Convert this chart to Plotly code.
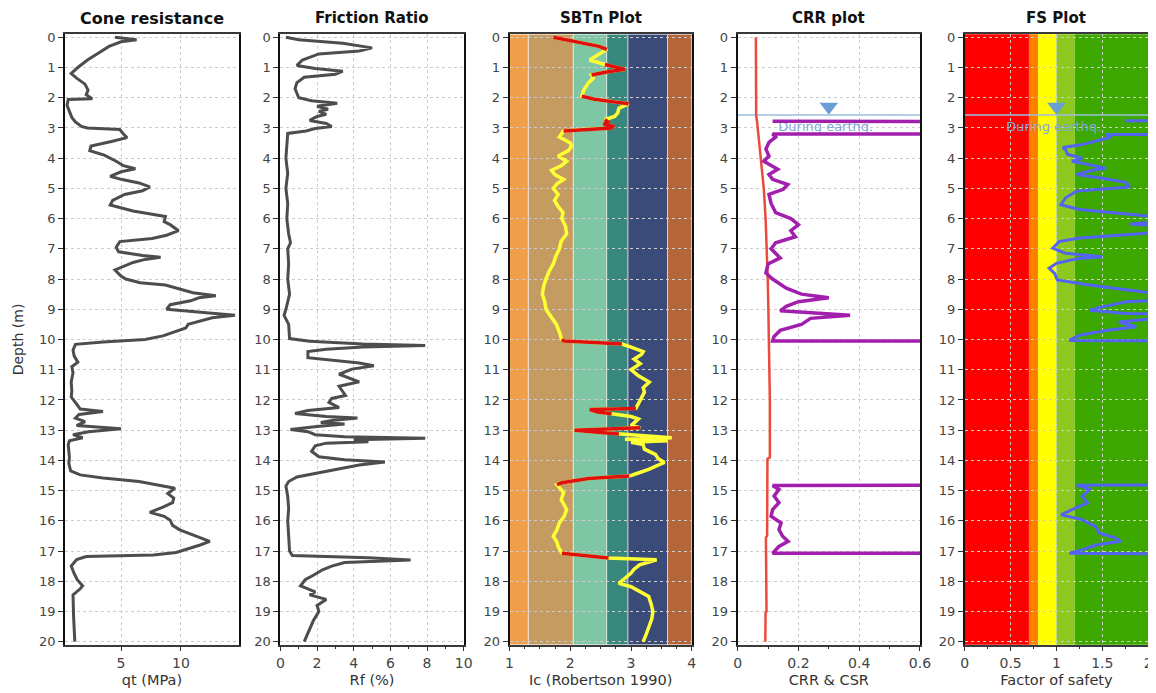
import plotly.graph_objects as go

W, H = 1156, 693

# ---------------- data ----------------
qt_depth = [0.00, 0.08, 0.15, 0.30, 0.50, 0.75, 1.00, 1.20, 1.35, 1.55, 1.75, 1.90, 2.03, 2.06, 2.25, 2.45,
            2.65, 2.80, 2.95, 3.00, 3.05, 3.20, 3.32, 3.45, 3.60, 3.75, 3.90, 4.10, 4.25, 4.35, 4.45, 4.60,
            4.70, 4.82, 4.95, 5.08, 5.20, 5.40, 5.55, 5.75, 5.93, 6.10, 6.20, 6.40, 6.55, 6.66, 6.76, 6.95,
            7.10, 7.22, 7.28, 7.35, 7.45, 7.70, 7.90, 8.00, 8.12, 8.20, 8.35, 8.45, 8.55, 8.62, 8.72, 8.85,
            9.00, 9.12, 9.20, 9.28, 9.40, 9.50, 9.62, 9.75, 9.88, 10.00, 10.08, 10.16, 10.35, 10.55, 10.75,
            10.90, 11.10, 11.40, 11.70, 11.90, 12.10, 12.30, 12.38, 12.48, 12.60, 12.72, 12.85, 12.95, 13.05,
            13.15, 13.25, 13.35, 13.48, 13.70, 13.90, 14.10, 14.35, 14.48, 14.58, 14.70, 14.82, 14.92, 15.10,
            15.25, 15.40, 15.55, 15.72, 15.85, 15.98, 16.15, 16.30, 16.50, 16.68, 16.80, 16.95, 17.05, 17.13,
            17.18, 17.28, 17.50, 17.75, 17.95, 18.15, 18.25, 18.45, 18.80, 19.20, 19.60, 20.00]
qt_mpa = [4.5, 6.3, 5.0, 4.0, 3.2, 2.2, 1.4, 0.85, 1.3, 2.0, 2.25, 2.1, 2.6, 0.6, 0.5, 0.7,
          0.9, 1.2, 1.7, 2.2, 4.9, 5.2, 5.5, 4.2, 2.5, 2.4, 3.6, 4.6, 5.2, 6.2, 5.0, 4.1,
          5.0, 6.5, 7.4, 6.8, 5.3, 4.3, 4.1, 6.0, 8.7, 8.6, 9.1, 9.8, 8.8, 7.6, 4.9, 4.6,
          4.8, 6.8, 8.3, 7.0, 6.0, 4.5, 5.0, 5.4, 6.6, 8.7, 10.2, 11.0, 12.9, 11.5, 10.8, 9.1,
          8.8, 12.3, 14.5, 12.6, 11.5, 10.6, 10.4, 9.5, 8.5, 7.0, 3.5, 1.2, 1.0, 1.1, 1.4,
          0.9, 1.0, 0.85, 0.9, 0.85, 1.2, 1.6, 3.5, 1.5, 1.2, 2.0, 1.3, 5.0, 2.3,
          1.0, 1.8, 0.7, 0.6, 0.65, 0.7, 0.65, 0.8, 1.6, 3.5, 6.5, 8.3, 9.5, 8.9,
          9.4, 9.3, 8.5, 7.4, 8.6, 9.1, 9.3, 9.9, 11.2, 12.4, 11.6, 10.3, 9.6, 7.7,
          2.1, 1.3, 0.85, 1.1, 1.35, 1.8, 1.6, 1.0, 1.0, 1.05, 1.1, 1.15]

rf_depth = [0.00, 0.08, 0.20, 0.35, 0.45, 0.55, 0.75, 0.93, 1.03, 1.12, 1.22, 1.32, 1.50, 1.70, 1.85, 2.00,
            2.10, 2.18, 2.28, 2.38, 2.45, 2.55, 2.62, 2.75, 2.85, 2.95, 3.02, 3.10, 3.18, 3.50, 4.00, 4.50,
            5.00, 5.50, 6.00, 6.50, 6.80, 7.00, 7.50, 8.00, 8.50, 9.00, 9.20, 9.50, 9.97, 10.06, 10.15,
            10.20, 10.25, 10.32, 10.40, 10.60, 10.70, 10.78, 10.87, 10.98, 11.15, 11.30, 11.40, 11.55,
            11.70, 11.85, 11.95, 12.08, 12.25, 12.35, 12.45, 12.55, 12.60, 12.68, 12.75, 12.80, 12.88,
            12.98, 13.05, 13.15, 13.22, 13.27, 13.32, 13.38, 13.43, 13.52, 13.70, 13.88, 13.98, 14.05,
            14.15, 14.25, 14.40, 14.55, 14.70, 14.85, 15.20, 15.60, 16.00, 16.50, 17.00, 17.15, 17.22,
            17.30, 17.38, 17.50, 17.62, 17.80, 17.95, 18.15, 18.25, 18.35, 18.45, 18.60, 18.80, 19.00,
            19.30, 19.60, 20.00]
rf_pct = [0.3, 1.0, 3.4, 5.0, 4.3, 2.1, 1.2, 0.9, 1.9, 3.4, 3.0, 1.3, 0.9, 0.8, 0.9, 1.0,
          1.7, 3.1, 2.0, 2.6, 2.1, 2.5, 2.0, 1.6, 2.5, 2.8, 1.9, 1.4, 0.4, 0.35, 0.3, 0.4,
          0.3, 0.4, 0.35, 0.45, 0.55, 0.4, 0.45, 0.4, 0.5, 0.3, 0.2, 0.45, 0.5, 1.6, 4.5,
          7.9, 4.5, 2.5, 1.5, 1.5, 3.0, 4.3, 5.1, 3.9, 3.2, 3.8, 4.3, 3.2,
          3.4, 3.55, 2.8, 2.65, 3.2, 1.5, 0.8, 2.5, 4.2, 2.8, 2.2, 3.5, 2.0,
          0.55, 1.5, 1.9, 3.5, 7.9, 4.0, 4.8, 2.5, 1.9, 1.7, 2.1, 3.5, 5.7,
          4.3, 3.5, 2.1, 0.9, 0.45, 0.3, 0.4, 0.45, 0.4, 0.45, 0.5, 0.65, 4.8,
          7.1, 3.5, 2.8, 2.3, 1.8, 1.35, 1.1, 1.5, 1.9, 1.6, 2.5, 2.0, 2.1,
          1.8, 1.6, 1.3]

ic_depth = [0.00, 0.10, 0.20, 0.30, 0.40, 0.55, 0.75, 0.90, 1.00, 1.06, 1.15, 1.25, 1.35, 1.50, 1.75, 1.95,
            2.05, 2.12, 2.20, 2.35, 2.50, 2.62, 2.72, 2.80, 2.88, 2.95, 3.00, 3.05, 3.10, 3.30, 3.50, 3.60,
            3.75, 3.93, 4.10, 4.25, 4.40, 4.55, 4.70, 4.85, 5.00, 5.20, 5.40, 5.60, 5.80, 6.00, 6.25, 6.50,
            6.75, 7.00, 7.25, 7.50, 7.75, 8.00, 8.25, 8.50, 8.75, 9.00, 9.25, 9.50, 9.75, 10.00, 10.05,
            10.10, 10.15, 10.25, 10.40, 10.50, 10.65, 10.80, 11.00, 11.20, 11.41, 11.60, 11.74, 11.90,
            12.08, 12.20, 12.28, 12.32, 12.40, 12.46, 12.55, 12.63, 12.75, 12.85, 12.92, 13.00, 13.08,
            13.13, 13.20, 13.25, 13.30, 13.35, 13.40, 13.48, 13.63, 13.80, 13.95, 14.07, 14.20, 14.30,
            14.46, 14.52, 14.60, 14.74, 14.80, 15.07, 15.30, 15.63, 15.85, 16.07, 16.30, 16.51, 16.70,
            16.85, 17.07, 17.15, 17.23, 17.29, 17.46, 17.60, 17.73, 17.90, 18.07, 18.18, 18.35, 18.50,
            18.75, 19.00, 19.25, 19.50, 19.75, 20.00]
ic_val = [1.72, 1.95, 2.20, 2.47, 2.60, 2.47, 2.32, 2.57, 2.80, 2.90, 2.60, 2.35, 2.38, 2.30, 2.22, 2.19,
          2.40, 2.65, 2.96, 2.80, 2.78, 2.73, 2.57, 2.62, 2.55, 2.70, 2.68, 2.19, 1.89, 1.82, 2.00, 2.02,
          1.97, 1.80, 1.94, 1.85, 1.69, 1.75, 1.89, 1.78, 1.72, 1.80, 1.74, 1.80, 1.88, 1.86, 1.92, 1.94,
          1.85, 1.82, 1.76, 1.72, 1.65, 1.60, 1.56, 1.54, 1.58, 1.60, 1.68, 1.77, 1.82, 1.86, 1.90,
          2.40, 2.85, 3.00, 3.20, 3.17, 3.05, 3.15, 3.00, 3.12, 3.30, 3.20, 3.22, 3.18,
          3.14, 3.10, 3.08, 2.32, 2.45, 2.68, 3.00, 3.12, 3.05, 3.00, 3.15, 2.07, 2.50,
          2.80, 3.20, 3.67, 2.90, 3.60, 3.00, 3.20, 3.22, 3.40, 3.45, 3.55, 3.40, 3.29,
          3.06, 2.97, 2.30, 1.86, 1.78, 1.89, 1.85, 1.94, 1.90, 1.82, 1.78, 1.72, 1.78,
          1.80, 1.86, 2.30, 2.63, 3.42, 3.14, 3.05, 3.00, 2.90, 2.80, 3.00, 3.15, 3.29,
          3.33, 3.36, 3.34, 3.30, 3.25, 3.20]
transition_zones = [(0.0, 0.40), (0.90, 1.25), (1.95, 2.20), (2.72, 3.10), (10.00, 10.15),
                    (12.28, 12.46), (12.92, 13.13), (14.52, 14.80), (17.07, 17.23)]

csr_depth = [0.0, 1.0, 2.0, 2.6, 2.8, 3.0, 3.5, 4.0, 4.5, 5.0, 6.0, 7.0, 8.0, 9.0, 10.0, 11.0, 12.0,
             13.0, 13.9, 13.95, 15.0, 16.0, 16.5, 16.55, 17.5, 18.0, 19.0, 19.05, 20.0]
csr_val = [0.060, 0.060, 0.060, 0.061, 0.064, 0.066, 0.072, 0.077, 0.082, 0.086, 0.092, 0.096, 0.099,
           0.101, 0.103, 0.105, 0.106, 0.106, 0.106, 0.098, 0.098, 0.097, 0.097, 0.093, 0.094, 0.095,
           0.095, 0.092, 0.091]

crr_depth = [2.78, 2.80, 3.18, 3.20, 3.30, 3.48, 3.70, 3.93, 4.10, 4.37, 4.54, 4.70, 4.87, 5.03, 5.20,
             5.50, 5.80, 6.00, 6.20, 6.40, 6.60, 6.80, 7.00, 7.30, 7.50, 7.80, 8.00, 8.30, 8.50, 8.62,
             8.75, 8.90, 9.05, 9.20, 9.30, 9.50, 9.70, 9.90, 10.05, 10.08, 14.80, 14.83, 14.96, 15.18,
             15.40, 15.63, 15.85, 16.07, 16.29, 16.51, 16.68, 16.85, 17.07, 17.09, 20.00]
crr_val = [0.115, 4.0, 4.0, 0.115, 0.125, 0.103, 0.093, 0.103, 0.086, 0.132, 0.103, 0.115, 0.165, 0.150,
           0.103, 0.110, 0.125, 0.175, 0.200, 0.175, 0.190, 0.125, 0.110, 0.140, 0.100, 0.093, 0.115,
           0.160, 0.210, 0.300, 0.200, 0.160, 0.140, 0.370, 0.240, 0.210, 0.140, 0.120, 0.115, 4.0, 4.0,
           0.115, 0.136, 0.120, 0.136, 0.115, 0.110, 0.143, 0.136, 0.148, 0.166, 0.136, 0.115, 4.0, 4.0]

fs_depth = [2.76, 2.80, 3.18, 3.22, 3.30, 3.43, 3.55, 3.65, 3.72, 3.87, 4.00, 4.10, 4.33, 4.40, 4.54, 4.65,
            4.80, 4.95, 5.09, 5.31, 5.54, 5.70, 5.81, 5.92, 6.00, 6.10, 6.18, 6.26, 6.45, 6.53, 6.64, 6.76,
            6.98, 7.15, 7.26, 7.33, 7.48, 7.64, 7.81, 8.03, 8.20, 8.31, 8.48, 8.60, 8.70, 8.75, 8.92, 9.03,
            9.14, 9.20, 9.30, 9.42, 9.58, 9.70, 9.86, 10.03, 10.06, 14.80, 14.82, 14.96, 15.19, 15.41,
            15.63, 15.80, 15.96, 16.19, 16.41, 16.57, 16.68, 16.80, 16.96, 17.07, 17.13, 20.00]
fs_val = [1.76, 4.0, 4.0, 1.54, 1.60, 1.43, 1.28, 1.07, 1.10, 1.12, 1.28, 1.17, 1.54, 1.39, 1.22, 1.47,
          1.76, 1.80, 1.22, 1.10, 1.05, 1.25, 1.61, 1.99, 2.30, 2.20, 1.80, 2.20, 2.10, 1.76, 1.25, 1.03,
          0.96, 1.10, 1.50, 1.22, 1.00, 0.92, 0.98, 1.01, 1.36, 1.65, 2.10, 3.00, 2.20, 1.76, 1.50, 1.36,
          1.76, 3.50, 2.10, 1.68, 1.87, 1.54, 1.25, 1.14, 4.0, 4.0, 1.22, 1.36, 1.28, 1.34,
          1.17, 1.05, 1.28, 1.43, 1.47, 1.65, 1.70, 1.43, 1.28, 1.14, 4.0, 4.0]

gwt_depth = 2.57
gwt_label = "During earthq."

sbt_bounds = [1.0, 1.31, 2.05, 2.60, 2.95, 3.60, 4.0]
sbt_colors = ["#EF9E4A", "#C49C62", "#7FC6A4", "#38887E", "#3A4B7A", "#B5653A"]
fs_bounds = [0.0, 0.7, 0.8, 1.0, 1.2, 2.0]
fs_colors = ["#FF0000", "#FF8000", "#FFFF00", "#8CC81E", "#3DA800"]

panel_titles = ["Cone resistance", "Friction Ratio", "SBTn Plot", "CRR plot", "FS Plot"]
x_titles = ["qt (MPa)", "Rf (%)", "Ic (Robertson 1990)", "CRR & CSR", "Factor of safety"]
depth_ticks = list(range(0, 21))

# ---------------- layout geometry ----------------
# target positions measured on the screen; mapped to figure pixels (page offset / capture scale calibration)
SX, OX = 0.9908, 8.57
SY, OY = 0.985, 11.5


def fx(sx):
    return (sx - OX) / SX


def fy(sy):
    return (sy - OY) / SY


px_left = [62, 278, 508, 737, 965]
px_right = [236, 462, 691, 920, 1149]
py_top, py_bottom = 33.7, 642
x_ranges = [[0.35, 14.8], [0, 10], [1, 4], [0, 0.6], [0, 2]]
y_dom = [(H - fy(py_bottom)) / H, (H - fy(py_top)) / H]

FONT = "DejaVu Sans"
GRID = "#CDCDCD"

fig = go.Figure()

# panel 1: cone resistance
fig.add_trace(go.Scatter(x=qt_mpa, y=qt_depth, mode="lines", line=dict(color="#4D4D4D", width=3),
                         xaxis="x", yaxis="y", showlegend=False))
# panel 2: friction ratio
fig.add_trace(go.Scatter(x=rf_pct, y=rf_depth, mode="lines", line=dict(color="#4D4D4D", width=3),
                         xaxis="x2", yaxis="y2", showlegend=False))
# panel 3: SBTn
fig.add_trace(go.Scatter(x=ic_val, y=ic_depth, mode="lines", line=dict(color="#FFFF33", width=3.5),
                         xaxis="x3", yaxis="y3", showlegend=False))


def in_zone(d):
    return any(a <= d <= b for a, b in transition_zones)


ic_red = [v if in_zone(d) else None for d, v in zip(ic_depth, ic_val)]
fig.add_trace(go.Scatter(x=ic_red, y=ic_depth, mode="lines", line=dict(color="#E01010", width=3.5),
                         connectgaps=False, xaxis="x3", yaxis="y3", showlegend=False))

# water table lines (drawn across the CRR and FS panels)
for k, ax in [(3, "4"), (4, "5")]:
    fig.add_trace(go.Scatter(x=x_ranges[k], y=[gwt_depth, gwt_depth], mode="lines",
                             line=dict(color="#9DBEDF", width=1.5), xaxis="x" + ax, yaxis="y" + ax,
                             showlegend=False, hoverinfo="skip"))

# panel 4: CRR / CSR
fig.add_trace(go.Scatter(x=[0.29], y=[gwt_depth + 0.42], mode="text", text=[gwt_label],
                         textfont=dict(color="#7EA7DA", size=13, family=FONT), textposition="middle center",
                         xaxis="x4", yaxis="y4", showlegend=False))
fig.add_trace(go.Scatter(x=csr_val, y=csr_depth, mode="lines", line=dict(color="#EC4A3A", width=2.5),
                         xaxis="x4", yaxis="y4", showlegend=False))
fig.add_trace(go.Scatter(x=crr_val, y=crr_depth, mode="lines", line=dict(color="#A21FAD", width=3.5),
                         xaxis="x4", yaxis="y4", showlegend=False))
fig.add_trace(go.Scatter(x=[0.30], y=[gwt_depth - 0.27], mode="markers",
                         marker=dict(symbol="triangle-down", size=16, color="#6C9ED6"),
                         xaxis="x4", yaxis="y4", showlegend=False))

# panel 5: FS
fig.add_trace(go.Scatter(x=[0.97], y=[gwt_depth + 0.42], mode="text", text=[gwt_label],
                         textfont=dict(color="#7EA7DA", size=13, family=FONT), textposition="middle center",
                         xaxis="x5", yaxis="y5", showlegend=False))
fig.add_trace(go.Scatter(x=fs_val, y=fs_depth, mode="lines", line=dict(color="#5364F5", width=3),
                         xaxis="x5", yaxis="y5", showlegend=False))
fig.add_trace(go.Scatter(x=[1.0], y=[gwt_depth - 0.27], mode="markers",
                         marker=dict(symbol="triangle-down", size=16, color="#6C9ED6"),
                         xaxis="x5", yaxis="y5", showlegend=False))

shapes = []
for i in range(len(sbt_colors)):
    shapes.append(dict(type="rect", xref="x3", yref="y3 domain", x0=sbt_bounds[i], x1=sbt_bounds[i + 1],
                       y0=0, y1=1, fillcolor=sbt_colors[i], line=dict(color="rgba(255,255,255,0.55)", width=1),
                       layer="below"))
for i in range(len(fs_colors)):
    shapes.append(dict(type="rect", xref="x5", yref="y5 domain", x0=fs_bounds[i], x1=fs_bounds[i + 1],
                       y0=0, y1=1, fillcolor=fs_colors[i], line=dict(width=0), layer="below"))

layout = dict(
    width=W, height=H, margin=dict(l=0, r=0, t=0, b=0),
    paper_bgcolor="white", plot_bgcolor="white",
    font=dict(family=FONT, color="#333333"),
    shapes=shapes, showlegend=False,
)

x_tick_cfg = [
    dict(tickmode="array", tickvals=[5, 10], showgrid=True),
    dict(tick0=0, dtick=2, minor=dict(dtick=1, ticks="outside", ticklen=3, tickcolor="#333", showgrid=False),
         showgrid=True),
    dict(tick0=1, dtick=1, minor=dict(dtick=0.25, ticks="outside", ticklen=3, tickcolor="#333", showgrid=False),
         showgrid=False),
    dict(tick0=0, dtick=0.2, minor=dict(dtick=0.1, ticks="outside", ticklen=3, tickcolor="#333", showgrid=False),
         showgrid=True),
    dict(tick0=0, dtick=0.5, minor=dict(dtick=0.25, ticks="outside", ticklen=3, tickcolor="#333", showgrid=False),
         showgrid=True),
]

annotations = []
for i in range(5):
    sfx = "" if i == 0 else str(i + 1)
    xd = [fx(px_left[i]) / W, fx(px_right[i]) / W]
    xa = dict(domain=xd, range=x_ranges[i], anchor="y" + sfx, showline=True, mirror=True,
              linecolor="#3A3A3A", linewidth=1.5, ticks="outside", ticklen=5, tickcolor="#333",
              tickfont=dict(size=14, color="#444"), gridcolor=GRID, griddash="dot", gridwidth=1,
              zeroline=False, fixedrange=True, ticklabelstandoff=0,
              title=dict(text=x_titles[i], font=dict(size=14.5, color="#333"), standoff=5))
    xa.update(x_tick_cfg[i])
    ya = dict(domain=y_dom, range=[20.1, -0.1], anchor="x" + sfx, showline=True, mirror=True,
              linecolor="#111111", linewidth=2, ticks="outside", ticklen=5, tickcolor="#333",
              tickmode="array", tickvals=depth_ticks, tickfont=dict(size=13, color="#444"),
              showgrid=True, gridcolor=GRID, griddash="dot", gridwidth=1, zeroline=False, fixedrange=True)
    if i == 0:
        ya["title"] = dict(text="Depth (m)", font=dict(size=14, color="#333"), standoff=12)
    layout["xaxis" + sfx] = xa
    layout["yaxis" + sfx] = ya
    annotations.append(dict(xref="paper", yref="paper", x=fx((px_left[i] + px_right[i]) / 2) / W,
                            y=(H - max(fy(16), 6.5)) / H, text="<b>" + panel_titles[i] + "</b>", showarrow=False,
                            xanchor="center", yanchor="middle",
                            font=dict(size=16 if i == 0 else 15, color="#111", family=FONT)))

layout["annotations"] = annotations
fig.update_layout(**layout)
fig.write_html("out.html")
